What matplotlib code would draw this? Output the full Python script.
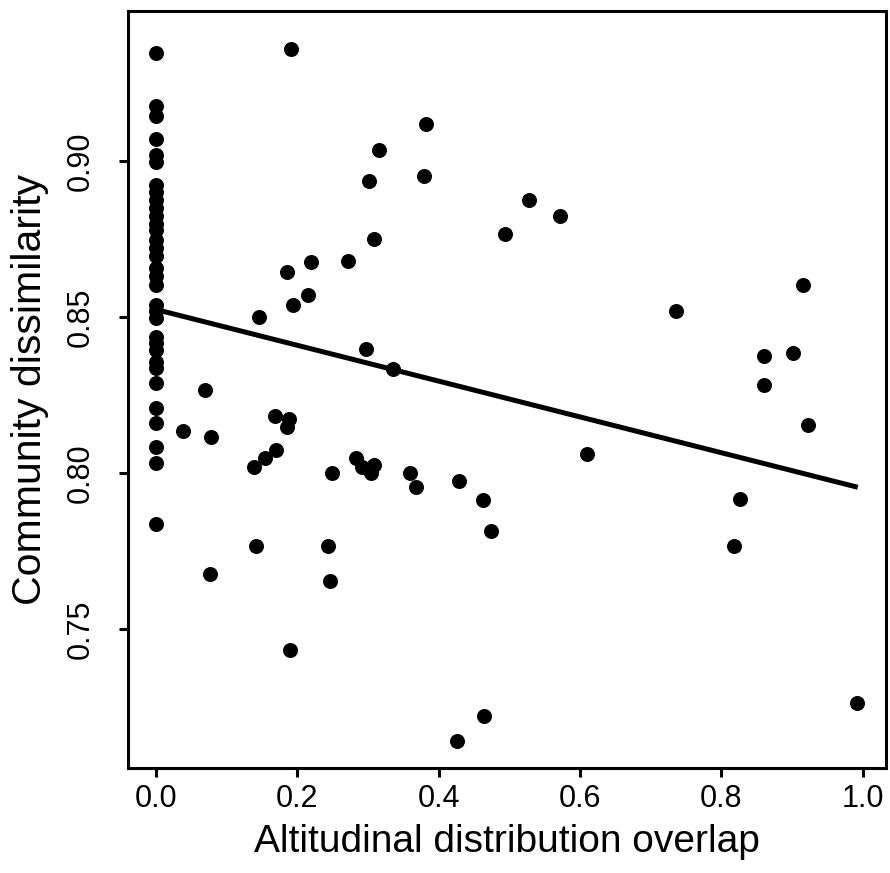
import numpy as np
import matplotlib
matplotlib.use('Agg')
import matplotlib.pyplot as plt

plt.rcParams['font.family'] = ['Liberation Sans', 'DejaVu Sans']

# species pairs with no altitudinal overlap
zero_y = [0.9347, 0.9177, 0.9145, 0.9071, 0.9020, 0.8998, 0.8924, 0.8902,
          0.8876, 0.8850, 0.8825, 0.8799, 0.8780, 0.8748, 0.8722, 0.8696,
          0.8658, 0.8632, 0.8603, 0.8539, 0.8520, 0.8497, 0.8436, 0.8417,
          0.8395, 0.8356, 0.8337, 0.8289, 0.8209, 0.8161, 0.8084, 0.8033,
          0.7838]

overlap = [0.038, 0.069, 0.078, 0.076, 0.139, 0.142, 0.146, 0.154, 0.168,
           0.170, 0.185, 0.188, 0.185, 0.190, 0.191, 0.194, 0.215, 0.219,
           0.243, 0.246, 0.249, 0.272, 0.283, 0.291, 0.297, 0.301, 0.304,
           0.308, 0.308, 0.316, 0.335, 0.359, 0.368, 0.379, 0.382, 0.4255,
           0.429, 0.463, 0.464, 0.474, 0.494, 0.528, 0.572, 0.610, 0.736,
           0.818, 0.826, 0.860, 0.861, 0.901, 0.916, 0.923, 0.992]
dissim = [0.8135, 0.8267, 0.8116, 0.7678, 0.8020, 0.7767, 0.8501, 0.8049,
          0.8184, 0.8075, 0.8148, 0.8174, 0.8645, 0.7433, 0.9360, 0.8539,
          0.8572, 0.8677, 0.7767, 0.7655, 0.8001, 0.8680, 0.8049, 0.8020,
          0.8398, 0.8936, 0.8001, 0.8027, 0.8751, 0.9036, 0.8334, 0.8001,
          0.7956, 0.8952, 0.9119, 0.7142, 0.7976, 0.7915, 0.7223, 0.7816,
          0.8767, 0.8876, 0.8825, 0.8063, 0.8520, 0.7767, 0.7918, 0.8282,
          0.8375, 0.8385, 0.8603, 0.8155, 0.7263]

# fitted regression line
fit_intercept = 0.8525
fit_slope = -0.0574
fit_range = [0.0, 0.993]

x = np.concatenate([np.zeros(len(zero_y)), overlap])
y = np.concatenate([zero_y, dissim])

fig = plt.figure(figsize=(8.9, 8.73), dpi=100)
ax = fig.add_axes([128/890, 1 - 768/873, 758/890, 757/873])

ax.plot(x, y, 'o', color='k', markersize=10.8, markeredgewidth=0)
fx = np.array(fit_range)
ax.plot(fx, fit_intercept + fit_slope*fx, color='k', lw=3.6, solid_capstyle='butt')

ax.set_xlim(-0.0396, 1.033)
ax.set_ylim(0.7055, 0.9482)
ax.set_xticks([0.0, 0.2, 0.4, 0.6, 0.8, 1.0])
ax.set_xticklabels(['0.0', '0.2', '0.4', '0.6', '0.8', '1.0'])
ax.set_yticks([0.75, 0.80, 0.85, 0.90])
ax.set_yticklabels(['0.75', '0.80', '0.85', '0.90'], rotation=90, va='center')

for s in ax.spines.values():
    s.set_linewidth(2.2)
ax.tick_params(axis='both', length=6.5, width=2.2, labelsize=22, color='k')
ax.tick_params(axis='x', pad=5)
ax.tick_params(axis='y', pad=17)

ax.set_xlabel('Altitudinal distribution overlap', fontsize=28, labelpad=7)
ax.set_ylabel('Community dissimilarity', fontsize=29.5, labelpad=12)

fig.savefig('out.png', dpi=100)
